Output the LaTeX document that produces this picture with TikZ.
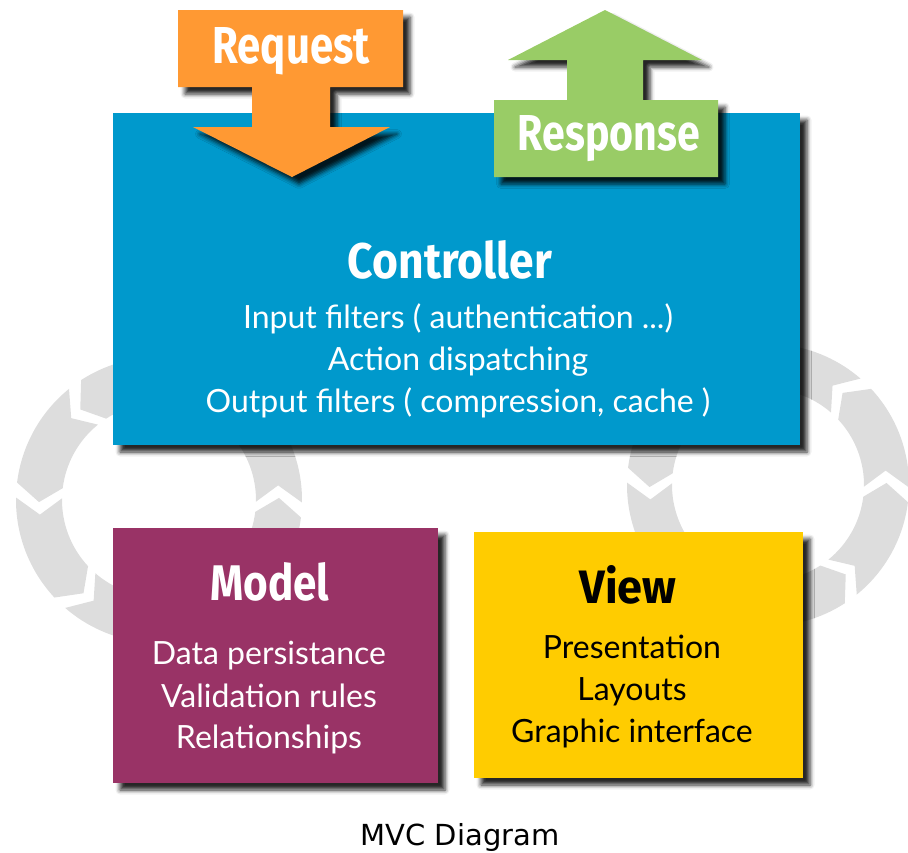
\documentclass[tikz,border=0pt]{standalone}
\usepackage{fontspec}
\setmainfont{Lato}
\newfontfamily\titlefont{Fira Sans}
\newfontfamily\capfont{DejaVu Sans}
\usetikzlibrary{shadows.blur}

\definecolor{ctrlblue}{HTML}{0099CC}
\definecolor{modelplum}{HTML}{993366}
\definecolor{viewyellow}{HTML}{FFCC00}
\definecolor{reqorange}{HTML}{FF9933}
\definecolor{resgreen}{HTML}{99CC66}
\definecolor{ringgray}{HTML}{DDDDDD}

\newcommand\ringseg[5]{%
  \pgfmathsetmacro\rmid{(#3+#4)/2}%
  \fill[ringgray] (#1:#3) arc[start angle=#1, end angle=#2, radius=#3]
    -- ({#2+#5}:\rmid) -- (#2:#4) arc[start angle=#2, end angle=#1, radius=#4]
    -- ({#1+#5}:\rmid) -- cycle;}

\newcommand\drawring{%
  \foreach \ba/\bb in {0/50,50/90,90/130,130/180,180/230,230/270,270/310,310/360}{%
    \pgfmathsetmacro\sa{\ba+3-4}%
    \pgfmathsetmacro\ea{\bb-3-4}%
    \ringseg{\sa}{\ea}{\Rout}{\Rin}{8}}}

\tikzset{
  shad/.style={blur shadow={shadow xshift=7pt, shadow yshift=-7pt, shadow blur radius=4.5pt, shadow opacity=85}},
  box/.style={rectangle, inner sep=0pt, outer sep=0pt, anchor=north west, shad},
  ttl/.style={inner sep=0pt, anchor=base},
  body/.style={inner sep=0pt, anchor=base, font=\fontsize{32}{32}\selectfont},
}
\newcommand\ttltext[3]{\resizebox{#1}{#2}{\titlefont\bfseries #3}}

\begin{document}
\begin{tikzpicture}[x=1pt,y=-1pt]
\useasboundingbox (0,0) rectangle (908,852);

% background rings
\begin{scope}[shift={(159,500)}, x=1pt, y=1pt]
  \def\Rout{143}\def\Rin{97}
  \drawring
\end{scope}
\begin{scope}[shift={(768,485)}, x=1pt, y=1pt]
  \def\Rout{141}\def\Rin{96}
  \drawring
\end{scope}

% controller
\node[box, fill=ctrlblue, minimum width=687pt, minimum height=332pt] (ctrl) at (113,113) {};
\node[ttl, text=white] (ctrlT) at (450,278) {\ttltext{204pt}{38pt}{Controller}};
\node[body, text=white] (ctrl1) at (458,328) {Input filters ( authentication ...)};
\node[body, text=white] (ctrl2) at (458,370) {Action dispatching};
\node[body, text=white] (ctrl3) at (458,412) {Output filters ( compression, cache )};

% request arrow
\fill[reqorange, shad] (178,10) -- (403,10) -- (403,87) -- (330,87) -- (330,127)
  -- (390,127) -- (292,177) -- (193,127) -- (252,127) -- (252,87) -- (178,87) -- cycle;
\node[ttl, text=white] (req) at (291,63) {\ttltext{157pt}{36pt}{Request}};

% response arrow
\fill[resgreen, shad] (605,10) -- (702,60) -- (643,60) -- (643,100) -- (718,100)
  -- (718,177) -- (494,177) -- (494,100) -- (567,100) -- (567,60) -- (508,60) -- cycle;
\node[ttl, text=white] (res) at (609,150) {\ttltext{182pt}{35pt}{Response}};

% model
\node[box, fill=modelplum, minimum width=325pt, minimum height=255pt] (model) at (113,528) {};
\node[ttl, text=white] (modelT) at (270,600) {\ttltext{119pt}{38pt}{Model}};
\node[body, text=white] (model1) at (269,664) {Data persistance};
\node[body, text=white] (model2) at (269,707) {Validation rules};
\node[body, text=white] (model3) at (269,748) {Relationships};

% view
\node[box, fill=viewyellow, minimum width=329pt, minimum height=246pt] (view) at (474,532) {};
\node[ttl, text=black] (viewT) at (628,603) {\ttltext{97pt}{38pt}{View}};
\node[body, text=black] (view1) at (632,658) {Presentation};
\node[body, text=black] (view2) at (632,700) {Layouts};
\node[body, text=black] (view3) at (632,742) {Graphic interface};

% caption
\node[anchor=base, inner sep=0pt, font=\capfont\fontsize{29}{29}\selectfont] (cap) at (460,845) {MVC Diagram};
\end{tikzpicture}
\end{document}
